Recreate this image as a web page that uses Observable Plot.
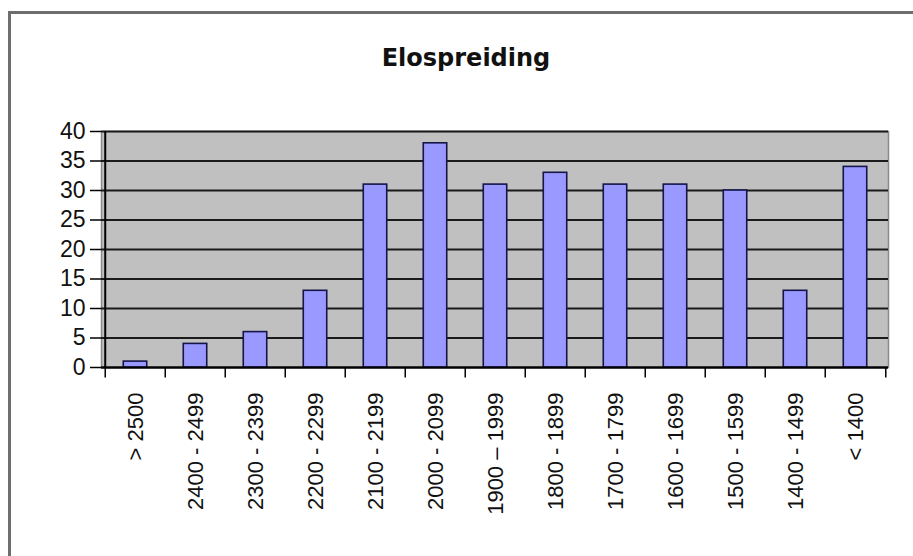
<!DOCTYPE html>
<html>
<head>
<meta charset="utf-8">
<script src="https://cdn.jsdelivr.net/npm/d3@7"></script>
<script src="https://cdn.jsdelivr.net/npm/@observablehq/plot@0.6"></script>
<style>
  html, body { margin: 0; padding: 0; background: #fff; overflow: hidden; }
  #wrap { position: relative; width: 913px; height: 556px; overflow: hidden; }
  #border { position: absolute; left: 8px; top: 11px; width: 1000px; height: 1000px;
            border: 3px solid #6e6e6e; box-sizing: border-box; pointer-events: none; }
  #title { position: relative; height: 100px; box-sizing: border-box; padding-top: 46px;
           text-align: center; font-family: "DejaVu Sans", sans-serif; font-weight: bold;
           font-size: 24px; line-height: 24px; color: #111; padding-left: 19px; }
  #chart { position: relative; }
</style>
</head>
<body>
<div id="wrap">
  <div id="border"></div>
  <div id="title">Elospreiding</div>
  <div id="chart"></div>
</div>
<script>
const categories = ["> 2500", "2400 - 2499", "2300 - 2399", "2200 - 2299", "2100 - 2199",
  "2000 - 2099", "1900 \u2013 1999", "1800 - 1899", "1700 - 1799", "1600 - 1699",
  "1500 - 1599", "1400 - 1499", "< 1400"];
const counts = [1, 4, 6, 13, 31, 38, 31, 33, 31, 31, 30, 13, 34];
const yTicks = [0, 5, 10, 15, 20, 25, 30, 35, 40];

const data = categories.map((c, i) => ({category: c, count: counts[i]}));

const W = 913, H = 456;
const mL = 101, mR = 25, mT = 31, mB = 189;
const step = (W - mL - mR) / categories.length;
const barW = 24;
const inset = (step - barW) / 2;
const font = "'Liberation Sans', Arial, sans-serif";

const chart = Plot.plot({
  width: W,
  height: H,
  marginLeft: mL,
  marginRight: mR,
  marginTop: mT,
  marginBottom: mB,
  style: {fontFamily: font, fontSize: "22px", color: "#111", background: "transparent", overflow: "visible"},
  x: {domain: categories, padding: 0, label: null},
  y: {domain: [0, 40], label: null},
  marks: [
    Plot.frame({fill: "#c0c0c0", stroke: "#8a8a8a", strokeWidth: 1.5}),
    Plot.ruleY(yTicks, {stroke: "#1a1a1a", strokeWidth: 2.2}),
    Plot.barY(data, {x: "category", y: "count", fill: "#9999ff", stroke: "#15154a",
      strokeWidth: 1.6, insetLeft: inset, insetRight: inset}),
    Plot.ruleY([0], {stroke: "#000", strokeWidth: 2}),
    Plot.ruleX([0], {x: () => categories[0], dx: -step / 2, y1: 0, y2: 40, stroke: "#000", strokeWidth: 2}),
    Plot.ruleX(categories, {x: d => d, dx: -step / 2, y1: 0, y2: -1.8, stroke: "#000", strokeWidth: 1.5}),
    Plot.ruleX([categories[categories.length - 1]], {x: d => d, dx: step / 2, y1: 0, y2: -1.8, stroke: "#000", strokeWidth: 1.5}),
    Plot.axisY({ticks: yTicks, tickSize: 11, tickPadding: 5, fontSize: 23, stroke: "#000", strokeWidth: 1.5, label: null}),
    Plot.axisX({tickRotate: -90, tickSize: 0, tickPadding: 25, fontSize: 22, label: null})
  ]
});
document.getElementById("chart").appendChild(chart);
</script>
</body>
</html>
